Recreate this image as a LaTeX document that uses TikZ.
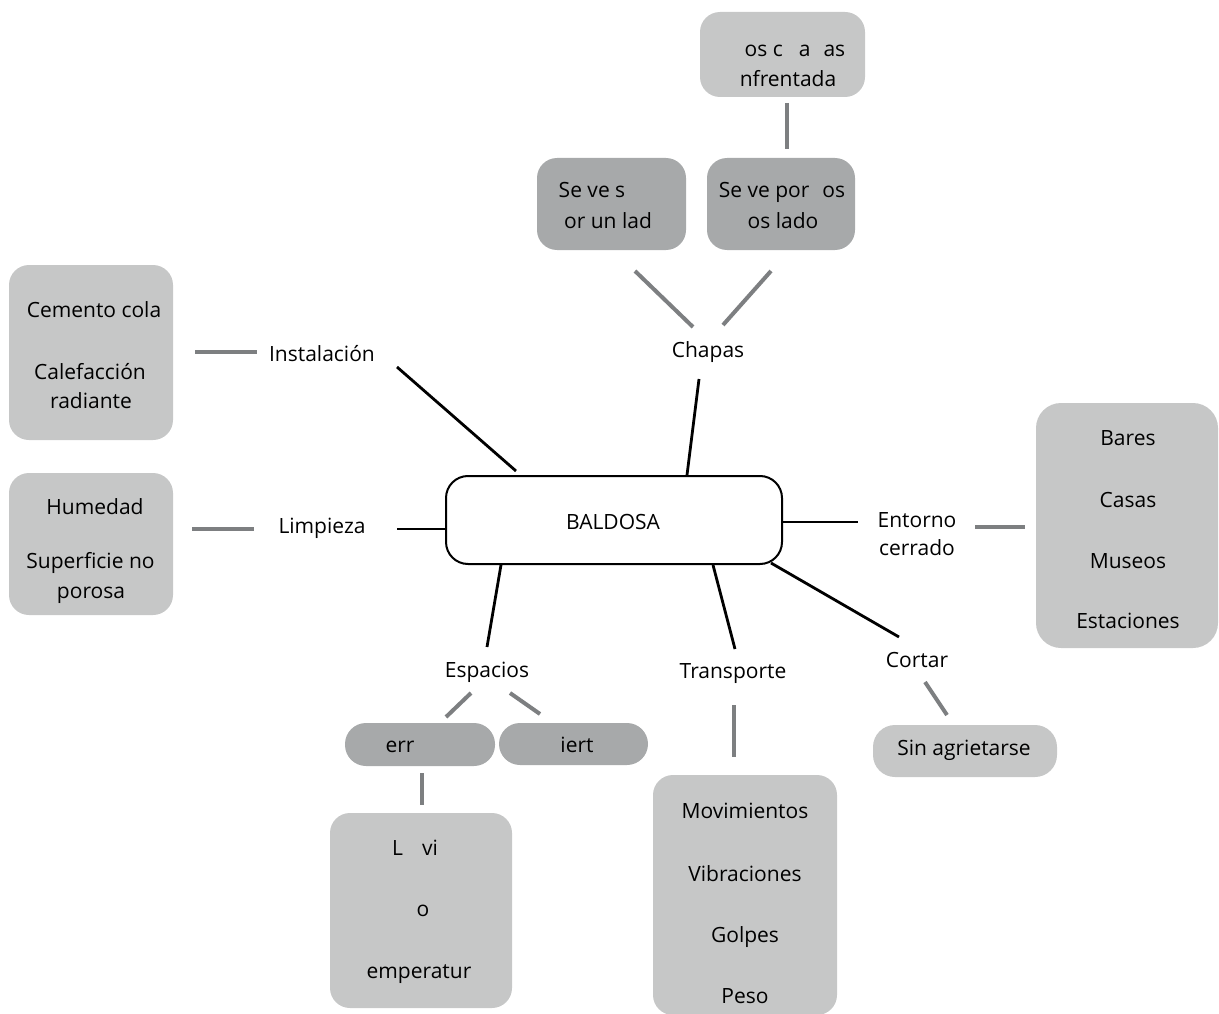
\documentclass[tikz,border=0pt]{standalone}
\usepackage{fontspec}
\setmainfont{Open Sans}
\definecolor{boxlight}{RGB}{198,199,199}
\definecolor{boxdark}{RGB}{167,169,170}
\definecolor{linkgrey}{RGB}{125,127,129}

\begin{document}
\begin{tikzpicture}[x=1pt,y=-1pt,
  lbl/.style={inner sep=0pt, anchor=base, font=\fontsize{21}{25}\selectfont},
  card/.style={inner sep=0pt, rounded corners=#1},
  lightcard/.style={card=20pt, fill=boxlight},
  darkcard/.style={card=20pt, fill=boxdark},
  pill/.style={card=21pt, fill=boxdark},
  hub/.style={card=22pt, draw=black, line width=2pt, fill=white},
  mainlink/.style={draw=black, line width=2.8pt},
  sublink/.style={draw=linkgrey, line width=4pt}
]
\useasboundingbox (0,0) rectangle (1219,1014);

% central node
\node[hub, minimum width=336pt, minimum height=88pt] (baldosa) at (614,520) {};
\node[lbl] (baldosa-t) at (613,529) {BALDOSA};

% grey cards
\node[lightcard, minimum width=165pt, minimum height=85pt] (caras) at (782.5,54.5) {};
\node[darkcard, minimum width=149pt, minimum height=92pt] (unlado) at (611.5,204) {};
\node[darkcard, minimum width=148pt, minimum height=92pt] (doslados) at (781,204) {};
\node[lightcard, minimum width=164pt, minimum height=175pt] (cemento) at (91,352.5) {};
\node[lightcard, minimum width=164pt, minimum height=142pt] (humedad) at (91,544) {};
\node[card=25pt, fill=boxlight, minimum width=182pt, minimum height=245pt] (bares) at (1127,525.5) {};
\node[card=22pt, fill=boxlight, minimum width=184pt, minimum height=52pt] (sin) at (965,751) {};
\node[lightcard, minimum width=184pt, minimum height=240pt] (movim) at (745,895) {};
\node[pill, minimum width=150pt, minimum height=43pt] (err) at (420,744.5) {};
\node[pill, minimum width=149pt, minimum height=42pt] (iert) at (573.5,744) {};
\node[lightcard, minimum width=182pt, minimum height=195pt] (lvi) at (421,910.5) {};

% card texts
\node[lbl] (caras-1) at (795,57) {os c\hspace{16pt}a\hspace{13pt}as};
\node[lbl] (caras-2) at (788,87) {nfrentada};
\node[lbl] (unlado-1) at (592,197) {Se ve s};
\node[lbl] (unlado-2) at (608,228) {or un lad};
\node[lbl] (doslados-1) at (782,197) {Se ve por\hspace{13pt}os};
\node[lbl] (doslados-2) at (783,228) {os lado};
\node[lbl] (cemento-1) at (94,317) {Cemento cola};
\node[lbl] (cemento-2) at (90,379) {Calefacción};
\node[lbl] (cemento-3) at (91,408) {radiante};
\node[lbl] (humedad-1) at (95,514) {Humedad};
\node[lbl] (humedad-2) at (90.5,568) {Superficie no};
\node[lbl] (humedad-3) at (91,598) {porosa};
\node[lbl] (bares-1) at (1128,445) {Bares};
\node[lbl] (bares-2) at (1128,507) {Casas};
\node[lbl] (bares-3) at (1128,568) {Museos};
\node[lbl] (bares-4) at (1128,628) {Estaciones};
\node[lbl] (sin-t) at (964,755) {Sin agrietarse};
\node[lbl] (movim-1) at (745,818) {Movimientos};
\node[lbl] (movim-2) at (745,881) {Vibraciones};
\node[lbl] (movim-3) at (745,942) {Golpes};
\node[lbl] (movim-4) at (745,1003) {Peso};
\node[lbl] (err-t) at (400,752) {err};
\node[lbl] (iert-t) at (577,752) {iert};
\node[lbl] (lvi-1) at (415,855) {L\hspace{19pt}vi};
\node[lbl] (lvi-2) at (423,916) {o};
\node[lbl] (lvi-3) at (419,978) {emperatur};

% branch labels
\node[lbl] (chapas) at (708,357) {Chapas};
\node[lbl] (inst) at (322,361) {Instalación};
\node[lbl] (limp) at (322,533) {Limpieza};
\node[lbl] (entorno-1) at (917,527) {Entorno};
\node[lbl] (entorno-2) at (917,555) {cerrado};
\node[lbl] (cortar) at (917,667) {Cortar};
\node[lbl] (transp) at (733,678) {Transporte};
\node[lbl] (espacios) at (487,677) {Espacios};

% free ends of the black branches
\coordinate (k-inst) at (397,367);   \coordinate (b-inst) at (516,471);
\coordinate (k-chap) at (699,379);   \coordinate (b-chap) at (687,475);
\coordinate (k-limp) at (397,529);   \coordinate (b-limp) at (446,529);
\coordinate (k-ent) at (858,522);    \coordinate (b-ent) at (782,522);
\coordinate (k-cort) at (899,637);   \coordinate (b-cort) at (771,563);
\coordinate (k-trans) at (735,649);  \coordinate (b-trans) at (713,565);
\coordinate (k-esp) at (487,647);    \coordinate (b-esp) at (501,565);

\draw[mainlink] (b-inst) -- (k-inst);
\draw[mainlink] (b-chap) -- (k-chap);
\draw[mainlink] (b-limp) -- (k-limp);
\draw[mainlink] (b-ent) -- (k-ent);
\draw[mainlink] (b-cort) -- (k-cort);
\draw[mainlink] (b-trans) -- (k-trans);
\draw[mainlink] (b-esp) -- (k-esp);

% free ends of the grey sub-branches
\coordinate (g-inst-a) at (195,352);  \coordinate (g-inst-b) at (257,352);
\coordinate (g-limp-a) at (192,529);  \coordinate (g-limp-b) at (254,529);
\coordinate (g-chl-a) at (635,271);   \coordinate (g-chl-b) at (693,327);
\coordinate (g-chr-a) at (771,271);   \coordinate (g-chr-b) at (723,325);
\coordinate (g-car-a) at (787,103);   \coordinate (g-car-b) at (787,149);
\coordinate (g-ent-a) at (975,527);   \coordinate (g-ent-b) at (1025,527);
\coordinate (g-cor-a) at (925,682);   \coordinate (g-cor-b) at (947,715);
\coordinate (g-tra-a) at (734,705);   \coordinate (g-tra-b) at (734,757);
\coordinate (g-esl-a) at (471,693);   \coordinate (g-esl-b) at (446,717);
\coordinate (g-esr-a) at (510,693);   \coordinate (g-esr-b) at (540,714);
\coordinate (g-err-a) at (422,773);   \coordinate (g-err-b) at (422,805);

\draw[sublink] (g-inst-a) -- (g-inst-b);
\draw[sublink] (g-limp-a) -- (g-limp-b);
\draw[sublink] (g-chl-a) -- (g-chl-b);
\draw[sublink] (g-chr-a) -- (g-chr-b);
\draw[sublink] (g-car-a) -- (g-car-b);
\draw[sublink] (g-ent-a) -- (g-ent-b);
\draw[sublink] (g-cor-a) -- (g-cor-b);
\draw[sublink] (g-tra-a) -- (g-tra-b);
\draw[sublink] (g-esl-a) -- (g-esl-b);
\draw[sublink] (g-esr-a) -- (g-esr-b);
\draw[sublink] (g-err-a) -- (g-err-b);
\end{tikzpicture}
\end{document}
